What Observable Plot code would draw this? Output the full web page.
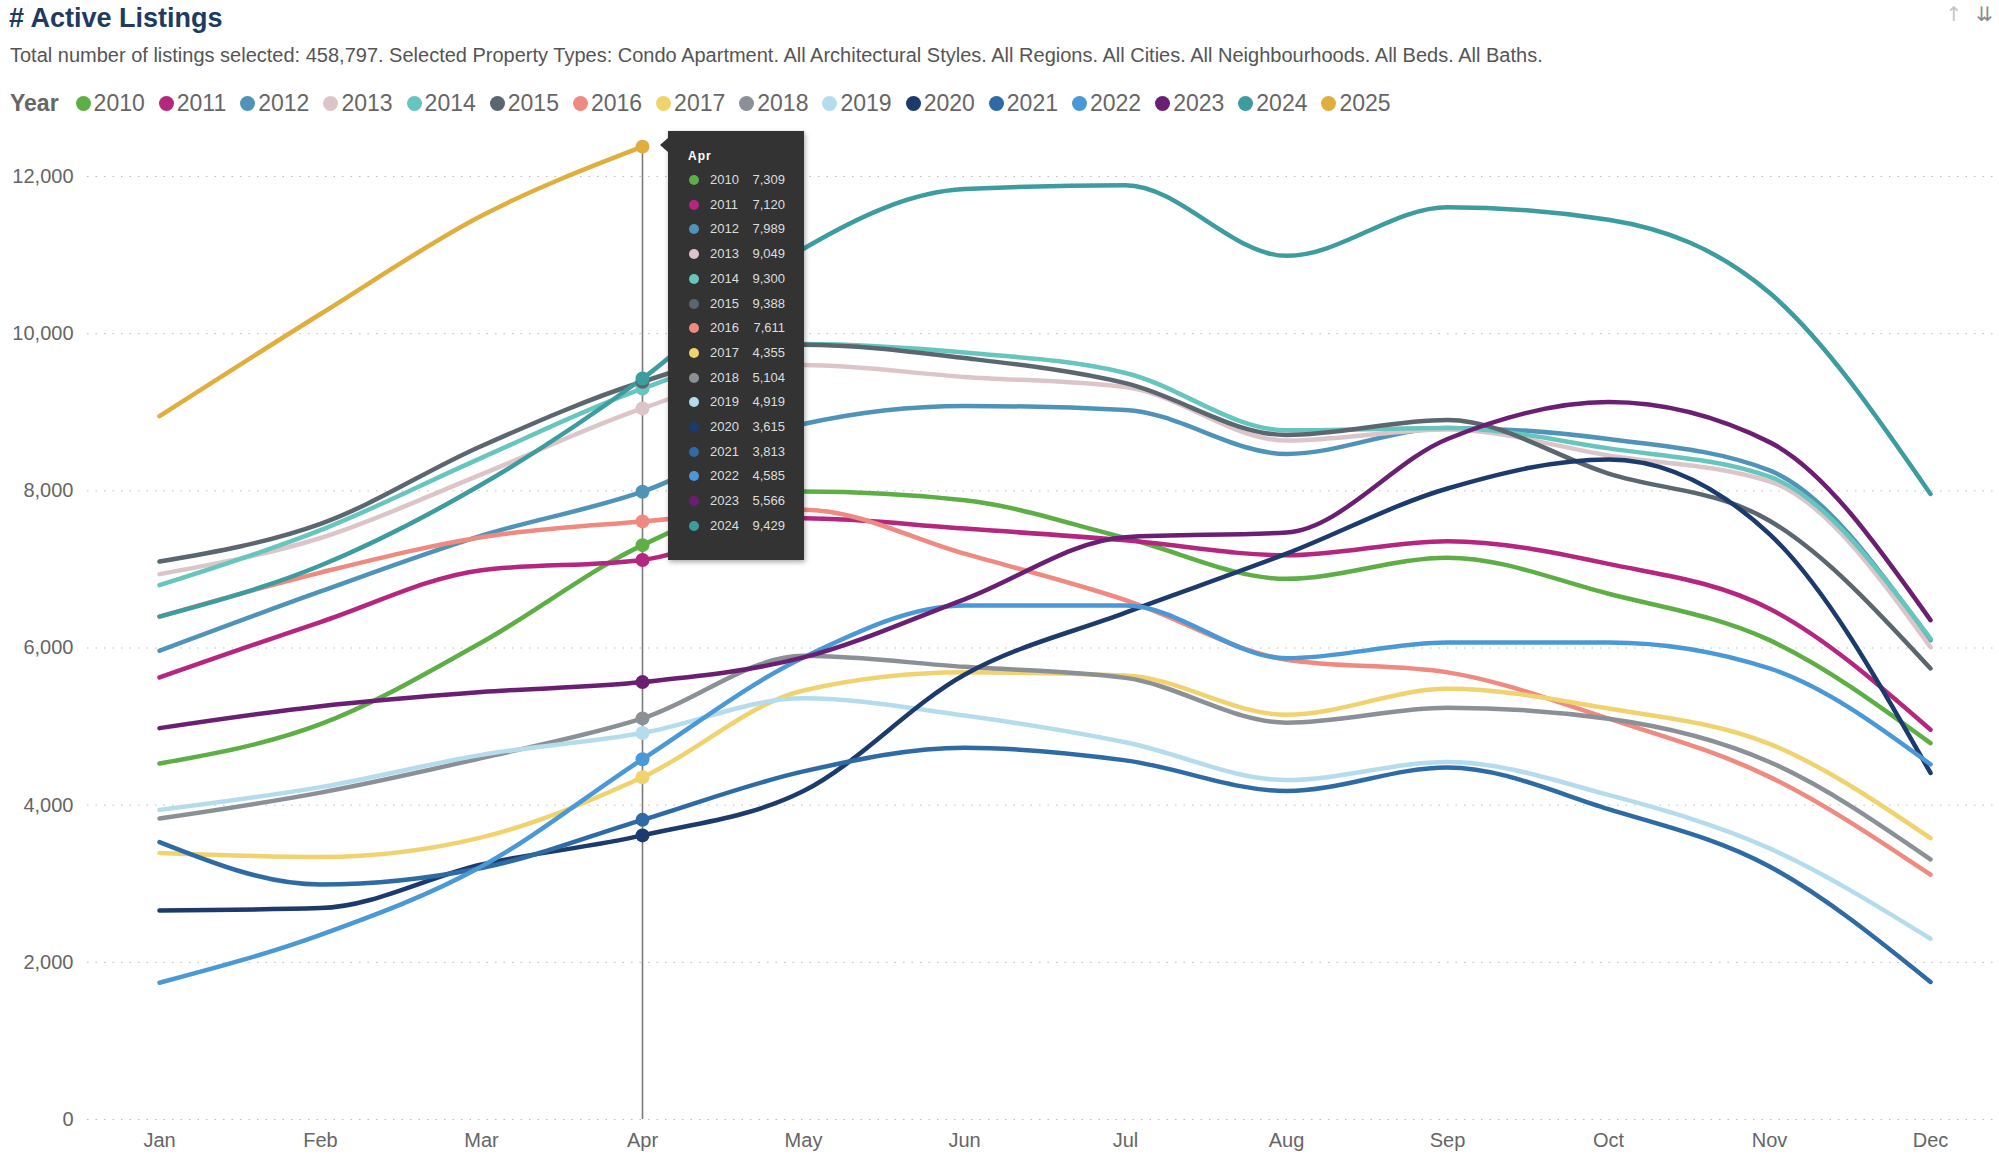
<!DOCTYPE html>
<html>
<head>
<meta charset="utf-8">
<script src="https://cdn.jsdelivr.net/npm/d3@7"></script>
<script src="https://cdn.jsdelivr.net/npm/@observablehq/plot@0.6"></script>
<style>
  html, body { margin: 0; padding: 0; background: #fff; }
  body { position: relative; width: 1999px; height: 1164px; overflow: hidden;
         font-family: "Liberation Sans", Arial, sans-serif; }
  #header { position: relative; height: 125px; }
  #title { position: absolute; left: 9px; top: 3px; font-size: 27px; font-weight: bold; color: #203a60; }
  #subtitle { position: absolute; left: 10px; top: 44px; font-size: 20px; color: #555; white-space: nowrap; }
  #legend { position: absolute; left: 10px; top: 90px; display: flex; align-items: center; gap: 14px;
            font-size: 23px; color: #666; white-space: nowrap; }
  #legend .lab { font-weight: bold; margin-right: 3px; }
  #legend .item { display: flex; align-items: center; }
  #legend .sw { width: 15px; height: 15px; border-radius: 50%; margin-right: 3px; }
  #icons { position: absolute; top: 2px; right: 6px; font-family: "DejaVu Sans", sans-serif; font-size: 20px; }
  #icons span { margin-left: 14px; }
  #tip { position: absolute; left: 668px; top: 131px; width: 136px; height: 429px; background: #333;
         box-shadow: 1px 2px 5px rgba(0,0,0,0.35); color: #ddd; font-size: 13px; }
  #tip::before { content: ""; position: absolute; left: -8px; top: 7px; border-top: 7px solid transparent;
                 border-bottom: 7px solid transparent; border-right: 8px solid #333; }
  #tip .hd { position: absolute; left: 20px; top: 18px; font-weight: bold; color: #fff; letter-spacing: 1px; font-size: 12px; }
  #tip .row { position: absolute; left: 0; width: 136px; height: 16px; line-height: 16px; }
  #tip .dot { position: absolute; left: 21px; top: 3px; width: 10px; height: 10px; border-radius: 50%; }
  #tip .yr { position: absolute; left: 42px; }
  #tip .val { position: absolute; right: 19px; }
</style>
</head>
<body>
<div id="header">
  <div id="title"># Active Listings</div>
  <div id="subtitle">Total number of listings selected: 458,797. Selected Property Types: Condo Apartment. All Architectural Styles. All Regions. All Cities. All Neighbourhoods. All Beds. All Baths.</div>
  <div id="legend"></div>
  <div id="icons"><span style="color:#c4c4c4">↑</span><span style="color:#8a8a8a">⇊</span></div>
</div>
<div id="chart"></div>
<div id="tip"></div>
<script>
// Months on the x axis
const months = ["Jan", "Feb", "Mar", "Apr", "May", "Jun", "Jul", "Aug", "Sep", "Oct", "Nov", "Dec"];
const years = ["2010", "2011", "2012", "2013", "2014", "2015", "2016", "2017",
               "2018", "2019", "2020", "2021", "2022", "2023", "2024", "2025"];

// Active condo apartment listings per month, one array per year
const y2010 = [4530, 5030, 6070, 7309, 7990, 7880, 7400, 6880, 7150, 6690, 6100, 4790];
const y2011 = [5625, 6330, 6990, 7120, 7650, 7520, 7370, 7180, 7360, 7070, 6500, 4960];
const y2012 = [5965, 6720, 7430, 7989, 8850, 9080, 9030, 8470, 8800, 8660, 8260, 6100];
const y2013 = [6940, 7400, 8210, 9049, 9600, 9450, 9320, 8640, 8780, 8450, 8120, 6010];
const y2014 = [6800, 7500, 8420, 9300, 9870, 9760, 9500, 8770, 8800, 8540, 8180, 6120];
const y2015 = [7100, 7580, 8570, 9388, 9860, 9690, 9370, 8710, 8900, 8220, 7620, 5740];
const y2016 = [6400, 6960, 7410, 7611, 7760, 7200, 6610, 5850, 5690, 5100, 4360, 3115];
const y2017 = [3390, 3340, 3590, 4355, 5460, 5690, 5650, 5150, 5480, 5230, 4780, 3580];
const y2018 = [3830, 4160, 4600, 5104, 5900, 5760, 5620, 5050, 5240, 5100, 4550, 3310];
const y2019 = [3940, 4230, 4640, 4919, 5360, 5140, 4800, 4320, 4550, 4130, 3450, 2300];
const y2020 = [2660, 2690, 3245, 3615, 4180, 5660, 6450, 7200, 8030, 8400, 7450, 4410];
const y2021 = [3530, 2990, 3200, 3813, 4430, 4730, 4570, 4180, 4480, 3950, 3220, 1750];
const y2022 = [1740, 2350, 3220, 4585, 5880, 6540, 6540, 5870, 6070, 6070, 5740, 4520];
const y2023 = [4980, 5260, 5440, 5566, 5880, 6620, 7410, 7470, 8660, 9130, 8620, 6355];
const y2024 = [6400, 7050, 8080, 9429, 11080, 11840, 11890, 10990, 11610, 11450, 10520, 7960];
const y2025 = [8950, 10250, 11500, 12380];

// Y axis tick values
const yTicks = [0, 2000, 4000, 6000, 8000, 10000, 12000];

// Hovered month shown in the tooltip
const focusMonth = "Apr";

const series = [y2010, y2011, y2012, y2013, y2014, y2015, y2016, y2017,
                y2018, y2019, y2020, y2021, y2022, y2023, y2024, y2025];

const palette = ["#5dae45", "#b5267f", "#4f94b8", "#dcc5c8", "#66c6be", "#5b666e", "#ee8a80", "#f0d26e",
                 "#8a9095", "#b5dcec", "#1c3a6b", "#2e6aa3", "#4a98d6", "#6a1f73", "#3d9c9e", "#e0ae3c"];

const rows = years.flatMap((yr, i) => series[i].map((v, j) => ({year: yr, month: months[j], value: v})));
const fi = months.indexOf(focusMonth);
const focusRows = rows.filter(d => d.month === focusMonth);
const topFocus = d3.max(focusRows, d => d.value);

// Legend
const legend = d3.select("#legend");
legend.append("span").attr("class", "lab").text("Year");
years.forEach((yr, i) => {
  const it = legend.append("span").attr("class", "item");
  it.append("span").attr("class", "sw").style("background", palette[i]);
  it.append("span").text(yr);
});

// Chart
const chart = Plot.plot({
  width: 1999,
  height: 1039,
  marginTop: 51,
  marginBottom: 45,
  marginLeft: 87,
  marginRight: 0,
  style: {fontFamily: "'Liberation Sans', Arial, sans-serif", fontSize: "20px", color: "#666", background: "#fff", overflow: "visible"},
  x: {type: "point", domain: months, range: [154, 1934], padding: 0, label: null},
  y: {domain: [0, 12000], label: null},
  color: {domain: years, range: palette},
  marks: [
    Plot.gridY(yTicks, {stroke: "#bdbdbd", strokeOpacity: 1, strokeDasharray: "1.5,7"}),
    Plot.axisY(yTicks, {tickSize: 0, tickPadding: 14, tickFormat: d3.format(","), fill: "#666", fontSize: 20, label: null}),
    Plot.axisX({tickSize: 0, tickPadding: 13, fill: "#666", fontSize: 20, label: null}),
    Plot.ruleX([focusMonth], {y1: 0, y2: topFocus, stroke: "#7a7a7a", strokeWidth: 1.6}),
    Plot.line(rows, {x: "month", y: "value", z: "year", stroke: "year", strokeWidth: 4.5, curve: "monotone-x"}),
    Plot.dot(focusRows, {x: "month", y: "value", fill: "year", r: 7})
  ]
});
document.getElementById("chart").appendChild(chart);

// Tooltip for the hovered month
const tip = d3.select("#tip");
tip.append("div").attr("class", "hd").text(focusMonth);
const fmt = d3.format(",");
years.slice(0, 15).forEach((yr, i) => {
  const r = tip.append("div").attr("class", "row").style("top", (41 + i * 24.7) + "px");
  r.append("span").attr("class", "dot").style("background", palette[i]);
  r.append("span").attr("class", "yr").text(yr);
  r.append("span").attr("class", "val").text(fmt(series[i][fi]));
});
</script>
</body>
</html>
